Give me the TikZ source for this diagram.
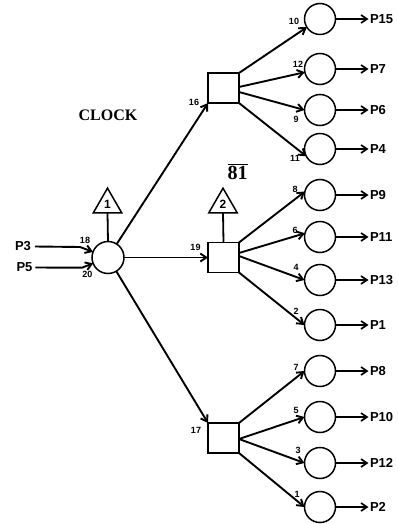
\documentclass[tikz,border=0pt]{standalone}
\usepackage{fontspec}
\newfontfamily\labfont{Liberation Sans}
\newfontfamily\serfont{Liberation Serif}
\usetikzlibrary{arrows.meta,shapes.geometric}
\begin{document}
\begin{tikzpicture}[x=1pt,y=-1pt,
  every node/.style={outer sep=0pt},
  line/.style={line width=1.8pt},
  arr/.style={line width=1.9pt,-{Straight Barb[length=6pt,width=8pt]}},
  bigc/.style={circle,draw,line width=1.5pt,minimum size=32pt,inner sep=0pt},
  smc/.style={circle,draw,line width=1.5pt,minimum size=31pt,inner sep=0pt},
  box/.style={rectangle,draw,line width=1.5pt,minimum width=31pt,minimum height=30pt,inner sep=0pt},
  tri/.style={regular polygon,regular polygon sides=3,draw,line width=1.5pt,minimum size=33pt,inner sep=0pt,font=\labfont\bfseries\fontsize{12}{12}\selectfont},
  plab/.style={font=\labfont\bfseries\fontsize{13}{13}\selectfont,inner sep=0pt},
  num/.style={font=\labfont\bfseries\fontsize{9}{9}\selectfont,inner sep=0pt},
]
\useasboundingbox (0,0) rectangle (398,524);

% main nodes
\node[bigc] (c0) at (108,257.5) {};
\node[tri] (t1) at (107.5,204.7) {1};
\node[box] (b1) at (223.5,88) {};
\node[box] (b2) at (223.5,257.5) {};
\node[box] (b3) at (223.5,438) {};
\node[tri] (t2) at (223,204.7) {2};

% texts
\node[font=\serfont\bfseries\fontsize{16}{16}\selectfont] (clk) at (108,115) {CLOCK};
\node[font=\serfont\bfseries\fontsize{20}{20}\selectfont] (eo) at (237.5,171.5) {$\overline{\mbox{81}}$};

% inputs
\node[plab] (p3) at (23,246.5) {P3};
\node[plab] (p5) at (24.5,267.5) {P5};
\coordinate (k3) at (80,247);
\coordinate (k5) at (82,267.7);
\draw[arr] ([xshift=4pt]p3.east) -- (k3) -- (c0);
\draw[arr] ([xshift=3pt]p5.east) -- (k5) -- (c0);
\node[num] (n18) at (85,240) {18};
\node[num] (n20) at (87.5,274.5) {20};

% triangles
\draw[line] (t1.side 2) -- (c0.north);
\draw[line] (t2.side 2) -- (b2.north);

% circle to boxes
\draw[arr] (c0) -- (b1.south west);
\draw[arr] (c0) -- (b2.west);
\draw[arr] (c0) -- (b3.north west);
\node[num] (n16) at (194,102) {16};
\node[num] (n19) at (195.5,247) {19};
\node[num] (n17) at (196,430) {17};

% output circles
\foreach \y/\n in {19/15,69/7,110/6,149/4,195/9,237/11,280/13,325/1,371/8,417/10,463/12,507/2}{
  \node[smc] (o\n) at (320,\y) {};
  \node[plab,anchor=west] (l\n) at (370,\y) {P\n};
  \draw[arr,line width=1.7pt,shorten >=1.5pt] (o\n) -- (l\n.west);
}

% box to circles
\draw[arr] (b1.north east) -- (o15.212);
\draw[arr] ([yshift=1pt]b1.east) -- (o7.192);
\draw[arr] ([yshift=-4pt]b1.east) -- (o6.west);
\draw[arr] (b1.south east) -- (o4.208);
\draw[arr] (b2.north east) -- (o9.167);
\draw[arr] ([yshift=4.5pt]b2.east) -- (o11.166);
\draw[arr] ([yshift=1.5pt]b2.east) -- (o13.west);
\draw[arr] (b2.south east) -- (o1.west);
\draw[arr] (b3.north east) -- (o8.west);
\draw[arr] ([yshift=-1pt]b3.east) -- (o10.west);
\draw[arr] ([yshift=-1pt]b3.east) -- (o12.west);
\draw[arr] (b3.south east) -- (o2.west);

% input labels
\node[num] (m10) at (294,21) {10};
\node[num] (m12) at (298,64) {12};
\node[num] (m9) at (296,119) {9};
\node[num] (m11) at (295,158) {11};
\node[num] (m8) at (295,189) {8};
\node[num] (m6) at (295,230) {6};
\node[num] (m4) at (296,267) {4};
\node[num] (m2) at (296,311) {2};
\node[num] (m7) at (296,367) {7};
\node[num] (m5) at (296,410) {5};
\node[num] (m3) at (298,450) {3};
\node[num] (m1) at (297,494) {1};
\end{tikzpicture}
\end{document}
